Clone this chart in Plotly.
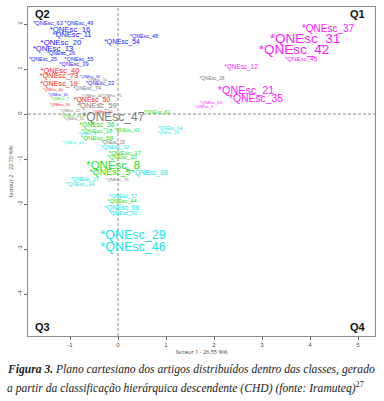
import plotly.graph_objects as go

# ---------------- data (factor coordinates) ----------------
blue_labels = ["*QNEsc_63", "*QNEsc_49", "*QNEsc_16", "*QNEsc_11", "*QNEsc_20", "*QNEsc_13",
               "*QNEsc_26", "*QNEsc_25", "*QNEsc_55", "*QNEsc_39", "*QNEsc_54", "*QNEsc_48",
               "*QNEsc_56", "*QNEsc_33", "*QNEsc_61"]
blue_x = [-1.458, -0.813, -1.0, -0.958, -1.188, -1.354, -1.188, -1.563, -0.813, -0.917,
          0.083, 0.542, -0.583, -0.375, -1.25]
blue_y = [2.0, 2.0, 1.867, 1.756, 1.578, 1.444, 1.333, 1.2, 1.2, 1.089, 1.6, 1.711,
          0.822, 0.667, 0.422]
blue_w = [5.7, 5.5, 7.8, 7.6, 7.8, 7.8, 5.4, 5.4, 5.6, 5.6, 6.8, 5.4, 3.8, 5.4, 3.8]

red_labels = ["*QNEsc_40", "*QNEsc_73", "*QNEsc_19", "*QNEsc_60", "*QNEsc_50", "*QNEsc_30",
              "*QNEsc_65"]
red_x = [-1.208, -1.229, -1.229, -1.354, -0.542, -1.208, -0.313]
red_y = [0.956, 0.844, 0.667, 0.533, 0.311, 0.2, 0.044]
red_w = [7.4, 7.4, 7.2, 3.8, 7.0, 3.8, 3.8]

gray_labels = ["*QNEsc_51", "*QNEsc_74", "*QNEsc_43", "*QNEsc_71", "*QNEsc_59", "*QNEsc_47",
               "*QNEsc_28", "*QNEsc_22", "*QNEsc_23", "*QNEsc_15", "*QNEsc_70"]
gray_x = [-0.438, -0.646, -0.542, -0.125, -0.438, -0.104, 1.958, -1.0, -0.917, -0.104, -0.021]
gray_y = [0.756, 0.556, 0.4, 0.4, 0.178, -0.089, 0.778, 0.067, -0.111, -0.644, -1.467]
gray_w = [3.8, 5.4, 3.8, 3.8, 7.6, 12.0, 4.8, 3.8, 3.8, 4.5, 4.4]

green_labels = ["*QNEsc_7", "*QNEsc_64", "*QNEsc_62", "*QNEsc_36", "*QNEsc_18", "*QNEsc_41",
                "*QNEsc_58", "*QNEsc_17", "*QNEsc_10", "*QNEsc_8", "*QNEsc_5", "*QNEsc_44"]
green_x = [-1.208, -0.979, 0.813, -0.438, -0.438, 0.188, -0.438, 0.146, 0.083, -0.104,
           -0.167, 0.083]
green_y = [0.333, -0.044, 0.022, -0.244, -0.378, -0.378, -0.533, -0.867, -0.978, -1.156,
           -1.311, -1.956]
green_w = [4.0, 4.0, 5.0, 6.7, 6.0, 4.8, 6.2, 6.2, 5.6, 11.5, 8.8, 5.6]

cyan_labels = ["*QNEsc_14", "*QNEsc_24", "*QNEsc_3", "*QNEsc_60", "*QNEsc_32", "*QNEsc_68",
               "*QNEsc_27", "*QNEsc_34", "*QNEsc_57", "*QNEsc_66", "*QNEsc_53", "*QNEsc_29",
               "*QNEsc_46"]
cyan_x = [1.083, 1.042, -0.646, -0.938, -0.063, 0.667, -0.688, -0.792, 0.104, 0.083, 0.104,
          0.313, 0.313]
cyan_y = [-0.333, -0.422, -0.444, -0.644, -0.756, -1.311, -1.467, -1.578, -1.844, -2.089,
          -2.222, -2.711, -2.978]
cyan_w = [4.6, 4.2, 3.8, 4.0, 5.4, 6.8, 5.4, 5.4, 5.4, 6.6, 5.4, 12.5, 12.5]

magenta_labels = ["*QNEsc_37", "*QNEsc_31", "*QNEsc_42", "*QNEsc_45", "*QNEsc_12",
                  "*QNEsc_21", "*QNEsc_35", "*QNEsc_69", "*QNEsc_9"]
magenta_x = [4.375, 3.896, 3.667, 3.813, 2.563, 2.667, 2.875, 1.938, 1.792]
magenta_y = [1.889, 1.644, 1.4, 1.222, 1.044, 0.511, 0.333, 0.244, 0.156]
magenta_w = [10.0, 13.5, 13.5, 6.2, 6.4, 10.8, 10.4, 4.2, 4.0]

x_ticks = [-1, 0, 1, 2, 3, 4, 5]
y_ticks = [-4, -3, -2, -1, 0, 1, 2]
x_title = "facteur 1 - 26.55 %%"
y_title = "facteur 2 - 22.70 %%"
quadrants = ["Q1", "Q2", "Q3", "Q4"]

# ---------------- figure ----------------
groups = [
    (blue_labels, blue_x, blue_y, blue_w, "#2020ff"),
    (red_labels, red_x, red_y, red_w, "#ff1a1a"),
    (gray_labels, gray_x, gray_y, gray_w, "#7a7a7a"),
    (green_labels, green_x, green_y, green_w, "#22e022"),
    (cyan_labels, cyan_x, cyan_y, cyan_w, "#10e8ec"),
    (magenta_labels, magenta_x, magenta_y, magenta_w, "#ff1aff"),
]

fig = go.Figure()
for labels, xs, ys, ws, col in groups:
    fig.add_trace(go.Scatter(
        x=xs, y=ys, text=labels, mode="text", textposition="middle center",
        textfont=dict(family="Liberation Sans, Arial, sans-serif", size=ws, color=col),
        hoverinfo="text", showlegend=False, cliponaxis=False,
    ))

dash_col = "#8a8a8a"
fig.add_shape(type="line", xref="x", yref="paper", x0=0, x1=0, y0=0, y1=1,
              line=dict(color=dash_col, width=1, dash="3px,2px"), layer="below")
fig.add_shape(type="line", xref="paper", yref="y", x0=0, x1=1, y0=0, y1=0,
              line=dict(color=dash_col, width=1, dash="3px,2px"), layer="below")

axis_common = dict(showgrid=False, zeroline=False, showline=True, mirror=True,
                   linecolor="#8c8c8c", linewidth=1, ticks="outside", ticklen=3,
                   tickcolor="#666666", tickfont=dict(family="Liberation Sans, Arial", size=6,
                                                     color="#444444"))
fig.update_xaxes(range=[-1.875, 5.354], tickvals=x_ticks, ticktext=[str(v) for v in x_ticks],
                 title=dict(text=x_title, font=dict(size=5.5, color="#444444"), standoff=2),
                 **axis_common)
fig.update_yaxes(range=[-4.933, 2.378], tickvals=y_ticks, ticktext=[str(v) for v in y_ticks],
                 tickangle=-90,
                 title=dict(text=y_title, font=dict(size=5.5, color="#444444"), standoff=2),
                 **axis_common)

qpos = {"Q1": (0.95, 0.978), "Q2": (0.043, 0.978), "Q3": (0.043, 0.027), "Q4": (0.95, 0.027)}
for q in quadrants:
    qx, qy = qpos[q]
    fig.add_annotation(x=qx, y=qy, xref="paper", yref="paper", text="<b>" + q + "</b>",
                       showarrow=False, xanchor="center", yanchor="middle",
                       font=dict(family="Liberation Sans, Arial", size=11, color="#111111"))

cap_font = dict(family="Liberation Serif, Times New Roman, serif", size=11.6, color="#222222")
fig.add_annotation(
    x=-0.066, y=-0.103, xref="paper", yref="paper", xanchor="left", yanchor="middle",
    showarrow=False, align="left", font=cap_font,
    text="<b><i>Figura 3.</i></b><i> Plano cartesiano dos artigos distribuídos dentro das classes, gerado</i>")
fig.add_annotation(
    x=-0.066, y=-0.158, xref="paper", yref="paper", xanchor="left", yanchor="middle",
    showarrow=False, align="left", font=cap_font,
    text="<i>a partir da classificação hierárquica descendente (CHD) (fonte: Iramuteq)</i><sup>27</sup>")

fig.update_layout(
    width=384, height=401, autosize=False,
    margin=dict(l=28, r=9, t=7, b=65),
    paper_bgcolor="white", plot_bgcolor="white",
)

fig.write_html("out.html", config={"displayModeBar": False},
               post_script="document.body.style.margin='0px';")
